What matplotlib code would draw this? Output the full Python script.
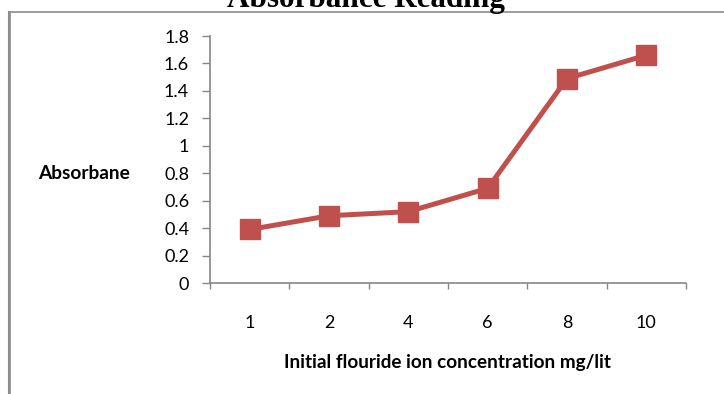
import matplotlib.pyplot as plt
from matplotlib.lines import Line2D

# data
conc_labels = ['1', '2', '4', '6', '8', '10']
absorbance = [0.39, 0.49, 0.52, 0.69, 1.49, 1.66]
y_ticks = [0, 0.2, 0.4, 0.6, 0.8, 1.0, 1.2, 1.4, 1.6, 1.8]
y_tick_labels = ['0', '0.2', '0.4', '0.6', '0.8', '1', '1.2', '1.4', '1.6', '1.8']

red = '#C0504D'
gray = '#868686'
sans = ['Lato', 'DejaVu Sans']

fig = plt.figure(figsize=(7.24, 3.94), dpi=100)
ax = fig.add_axes([0.290, 0.2817, 0.9475 - 0.290, 0.9086 - 0.2817])

xs = list(range(len(conc_labels)))
ax.plot(xs, absorbance, color=red, lw=3.6, marker='s', markersize=14,
        markerfacecolor=red, markeredgecolor=red, solid_joinstyle='miter')

ax.set_xlim(-0.5, len(conc_labels) - 0.5)
ax.set_ylim(0, 1.8)
ax.set_yticks(y_ticks)
ax.set_yticklabels(y_tick_labels, fontfamily=sans, fontsize=13)
ax.set_xticks(xs)
ax.set_xticklabels(conc_labels, fontfamily=sans, fontsize=13)
ax.set_xticks([i - 0.5 for i in range(len(conc_labels) + 1)], minor=True)

ax.tick_params(axis='x', which='major', length=0, pad=23)
ax.tick_params(axis='x', which='minor', length=4, width=1, color=gray, direction='out')
ax.tick_params(axis='y', length=6, width=1, color=gray, direction='out', pad=9)

for s in ['top', 'right']:
    ax.spines[s].set_visible(False)
for s in ['left', 'bottom']:
    ax.spines[s].set_color(gray)
    ax.spines[s].set_linewidth(1.2)

fig.text(0.180, 0.5609, 'Absorbane', ha='right', va='center',
         fontfamily=sans, fontweight='bold', fontsize=13.8)
fig.text(0.6175, 0.081, 'Initial flouride ion concentration mg/lit',
         ha='center', va='center', fontfamily=sans, fontweight='bold', fontsize=13.6)

# chart title, cut off at the top like the reference
fig.text(0.5055, 0.982, 'Absorbance Reading', ha='center', va='baseline',
         fontfamily='Liberation Serif', fontweight='bold', fontsize=22.4)

# outer chart frame (left and top edges visible)
fig.add_artist(Line2D([9.5 / 724, 9.5 / 724, 1.0], [0.0, 1 - 12 / 394, 1 - 12 / 394],
                      transform=fig.transFigure, color='#8c8c8c', lw=1.2))
fig.add_artist(Line2D([8.5 / 724, 8.5 / 724], [0.0, 1 - 12 / 394],
                      transform=fig.transFigure, color='#8c8c8c', lw=1.5))

fig.savefig('out.png', dpi=100)
